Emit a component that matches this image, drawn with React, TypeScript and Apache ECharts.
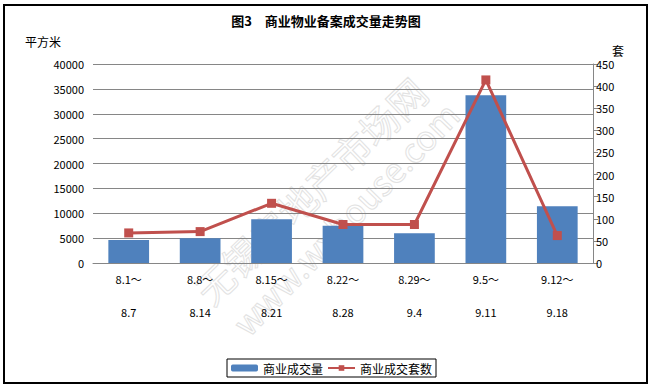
import React, { useEffect, useRef } from "react";
import * as echarts from "echarts";

const categories = ["8.1～\n\n8.7", "8.8～\n\n8.14", "8.15～\n\n8.21", "8.22～\n\n8.28", "8.29～\n\n9.4", "9.5～\n\n9.11", "9.12～\n\n9.18"];
const areaValues = [4600, 5000, 8800, 7500, 6000, 33700, 11400];
const unitValues = [68, 71, 135, 87, 87, 414, 62];
const titleText = "图3\u3000商业物业备案成交量走势图";
const leftUnit = "平方米";
const rightUnit = "套";
const barName = "商业成交量";
const lineName = "商业成交套数";

const FONT = "'Noto Sans CJK SC', 'DejaVu Sans', sans-serif";

export default function App() {
  const ref = useRef<HTMLDivElement>(null);
  useEffect(() => {
    if (!ref.current) return;
    const chart = echarts.init(ref.current, null, { renderer: "svg" });
    chart.setOption({
      animation: false,
      backgroundColor: "#fff",
      textStyle: { fontFamily: FONT },
      grid: { left: 93, right: 59, top: 64, bottom: 125 },
      legend: {
        left: 227,
        top: 359,
        itemWidth: 27,
        itemHeight: 7,
        itemGap: 4,
        padding: [3, 4],
        borderColor: "#000",
        borderWidth: 1,
        textStyle: { fontSize: 12, color: "#000", fontFamily: FONT },
        data: [barName, lineName],
      },
      xAxis: {
        type: "category",
        data: categories,
        axisLine: { lineStyle: { color: "#868686", width: 1 } },
        axisTick: { show: false },
        axisLabel: { color: "#000", fontSize: 11, lineHeight: 16.5, margin: 8, interval: 0, fontFamily: FONT },
      },
      yAxis: [
        {
          type: "value",
          min: 0,
          max: 40000,
          interval: 5000,
          axisLine: { show: false },
          axisTick: { show: false },
          splitLine: { lineStyle: { color: "#868686", width: 1 } },
          axisLabel: { color: "#000", fontSize: 11, margin: 9, fontFamily: FONT, formatter: (v: number) => String(v) },
        },
        {
          type: "value",
          min: 0,
          max: 450,
          interval: 50,
          position: "right",
          axisLine: { show: true, lineStyle: { color: "#868686", width: 1 } },
          axisTick: { show: true, length: 5, lineStyle: { color: "#868686" } },
          splitLine: { show: false },
          axisLabel: { color: "#000", fontSize: 11, margin: 3, fontFamily: FONT, formatter: (v: number) => String(v) },
        },
      ],
      series: [
        {
          name: barName,
          type: "bar",
          data: areaValues,
          barWidth: "57%",
          itemStyle: { color: "#4f81bd" },
          yAxisIndex: 0,
        },
        {
          name: lineName,
          type: "line",
          data: unitValues,
          yAxisIndex: 1,
          symbol: "rect",
          symbolSize: 9,
          lineStyle: { color: "#c0504d", width: 3 },
          itemStyle: { color: "#c0504d" },
        },
      ],
      graphic: [
        {
          type: "rect",
          shape: { x: 4, y: 5, width: 643, height: 378 },
          style: { fill: "none", stroke: "#000", lineWidth: 2 },
          silent: true,
        },
        {
          type: "text",
          x: 326,
          y: 20,
          style: { text: titleText, fill: "#000", align: "center", verticalAlign: "middle", font: `bold 13px ${FONT}` },
        },
        {
          type: "text",
          x: 25,
          y: 41,
          style: { text: leftUnit, fill: "#000", align: "left", verticalAlign: "middle", font: `12px ${FONT}` },
        },
        {
          type: "text",
          x: 612,
          y: 50,
          style: { text: rightUnit, fill: "#000", align: "left", verticalAlign: "middle", font: `12px ${FONT}` },
        },
        {
          type: "text",
          x: 310,
          y: 190,
          rotation: (44 * Math.PI) / 180,
          z: -1,
          style: { text: "无锡房地产市场网", fill: "none", stroke: "#e2e2e2", lineWidth: 1, align: "center", verticalAlign: "middle", font: `38px ${FONT}` },
          silent: true,
        },
        {
          type: "text",
          x: 345,
          y: 218,
          rotation: (46 * Math.PI) / 180,
          z: -1,
          style: { text: "www.wxhouse.com", fill: "none", stroke: "#e2e2e2", lineWidth: 1, align: "center", verticalAlign: "middle", font: `34px ${FONT}` },
          silent: true,
        },
      ],
    });
    return () => chart.dispose();
  }, []);
  return <div ref={ref} style={{ position: "fixed", left: 0, top: 0, width: 652, height: 388 }} />;
}
